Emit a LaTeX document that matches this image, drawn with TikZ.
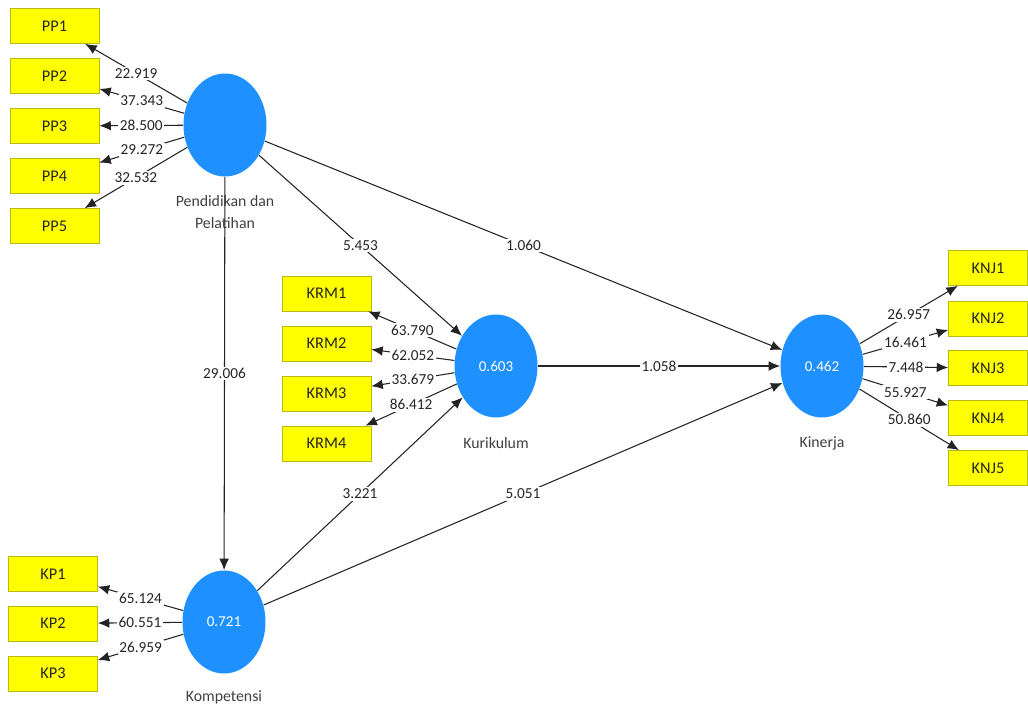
\documentclass[tikz,border=0pt]{standalone}
\usepackage{fontspec}
\setmainfont{Carlito}
\usetikzlibrary{shapes.geometric,arrows.meta}
\definecolor{lvblue}{RGB}{30,144,255}
\definecolor{mvyellow}{RGB}{255,255,0}
\definecolor{mvedge}{RGB}{185,185,20}
\definecolor{pathgray}{RGB}{35,35,35}

\begin{document}
\begin{tikzpicture}[x=0.02cm,y=-0.02cm,
latent/.style={ellipse,fill=lvblue,draw=none,minimum width=1.66cm,minimum height=2.06cm,inner sep=0pt,text=white,font=\fontsize{8.6}{10}\selectfont},
indicator/.style={rectangle,draw=mvedge,fill=mvyellow,minimum width=1.78cm,minimum height=0.70cm,inner sep=0pt,text=black!85,font=\fontsize{9.3}{10}\selectfont},
lvname/.style={align=center,text=black!75,font=\fontsize{9}{12.5}\selectfont},
coef/.style={fill=white,inner sep=1pt,text=black!85,font=\fontsize{8.7}{10}\selectfont},
loading/.style={draw=pathgray,line width=0.6pt,-{Latex[length=6.5pt,width=5.5pt]}}]

\useasboundingbox (0,0) rectangle (1028,709);

% latent variables
\draw (225,125) node[latent] (PP) {};
\draw (496,366) node[latent] (KRM) {0.603};
\draw (822,366) node[latent] (KIN) {0.462};
\draw (224,622) node[latent] (KP) {0.721};

\draw (225,212) node[lvname] (PPn) {Pendidikan dan\\Pelatihan};
\draw (496,443) node[lvname] (KRMn) {Kurikulum};
\draw (822,443) node[lvname] (KINn) {Kinerja};
\draw (224,697) node[lvname] (KPn) {Kompetensi};

% indicators
\draw (54.5,26) node[indicator] (PP1) {PP1};
\draw (54.5,76) node[indicator] (PP2) {PP2};
\draw (54.5,126) node[indicator] (PP3) {PP3};
\draw (54.5,176) node[indicator] (PP4) {PP4};
\draw (54.5,226) node[indicator] (PP5) {PP5};

\draw (326.5,293.5) node[indicator] (KRM1) {KRM1};
\draw (326.5,343.5) node[indicator] (KRM2) {KRM2};
\draw (326.5,393.5) node[indicator] (KRM3) {KRM3};
\draw (326.5,443.5) node[indicator] (KRM4) {KRM4};

\draw (988,268) node[indicator,minimum width=1.58cm] (KNJ1) {KNJ1};
\draw (988,318.5) node[indicator,minimum width=1.58cm] (KNJ2) {KNJ2};
\draw (988,368) node[indicator,minimum width=1.58cm] (KNJ3) {KNJ3};
\draw (988,418) node[indicator,minimum width=1.58cm] (KNJ4) {KNJ4};
\draw (988,468) node[indicator,minimum width=1.58cm] (KNJ5) {KNJ5};

\draw (53,574) node[indicator] (KP1) {KP1};
\draw (53,623.5) node[indicator] (KP2) {KP2};
\draw (53,673.5) node[indicator] (KP3) {KP3};

% outer loadings
\draw[loading] (PP) -- node[coef] {22.919} (PP1);
\draw[loading] (PP) -- node[coef] {37.343} (PP2);
\draw[loading] (PP) -- node[coef] {28.500} (PP3);
\draw[loading] (PP) -- node[coef] {29.272} (PP4);
\draw[loading] (PP) -- node[coef] {32.532} (PP5);

\draw[loading] (KRM) -- node[coef] {63.790} (KRM1);
\draw[loading] (KRM) -- node[coef] {62.052} (KRM2);
\draw[loading] (KRM) -- node[coef] {33.679} (KRM3);
\draw[loading] (KRM) -- node[coef] {86.412} (KRM4);

\draw[loading] (KIN) -- node[coef] {26.957} (KNJ1);
\draw[loading] (KIN) -- node[coef] {16.461} (KNJ2);
\draw[loading] (KIN) -- node[coef] {7.448} (KNJ3);
\draw[loading] (KIN) -- node[coef] {55.927} (KNJ4);
\draw[loading] (KIN) -- node[coef] {50.860} (KNJ5);

\draw[loading] (KP) -- node[coef] {65.124} (KP1);
\draw[loading] (KP) -- node[coef] {60.551} (KP2);
\draw[loading] (KP) -- node[coef] {26.959} (KP3);

% inner model
\draw[loading] (PP) -- node[coef] {5.453} (KRM);
\draw[loading] (PP) -- node[coef] {1.060} (KIN);
\draw[loading] (PP) -- node[coef] {29.006} (KP);
\draw[loading] (KRM) -- node[coef] {1.058} (KIN);
\draw[loading] (KP) -- node[coef] {3.221} (KRM);
\draw[loading] (KP) -- node[coef] {5.051} (KIN);

\end{tikzpicture}
\end{document}
